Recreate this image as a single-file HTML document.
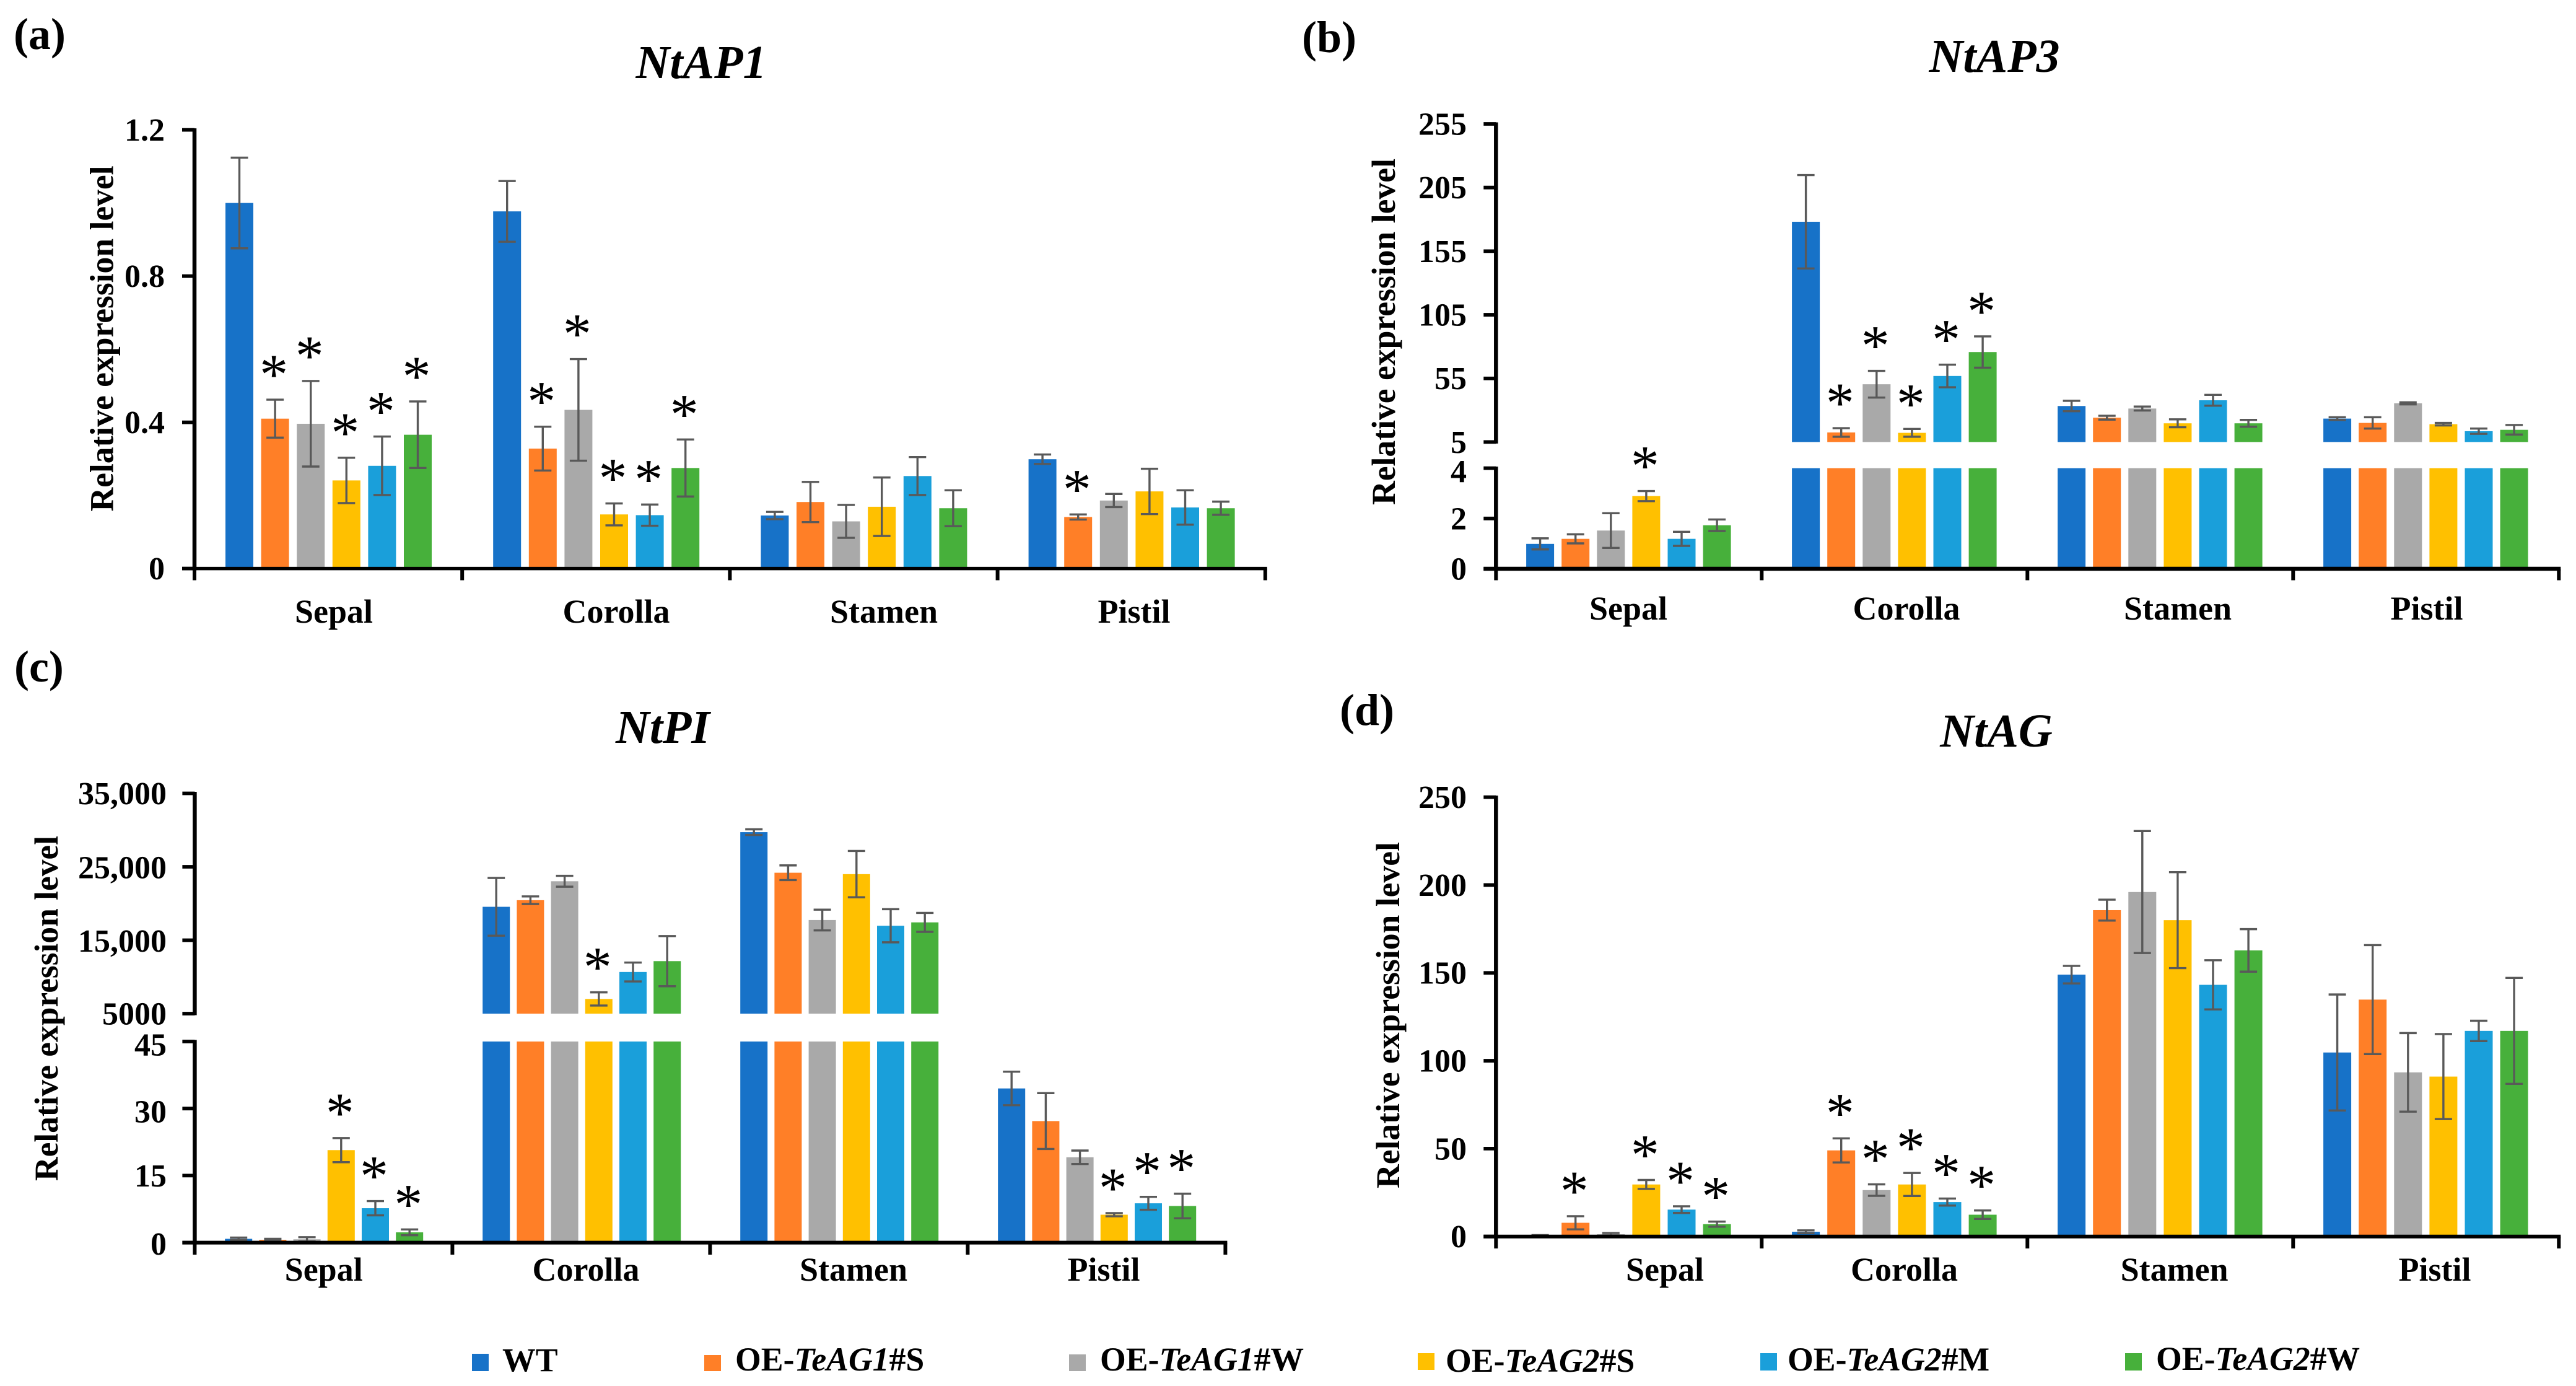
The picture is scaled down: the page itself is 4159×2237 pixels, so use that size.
<!DOCTYPE html>
<html lang="en">
<head>
<meta charset="utf-8">
<title>Relative expression of NtAP1, NtAP3, NtPI and NtAG</title>
<style>
html,body{margin:0;padding:0;background:#fff;}
svg{display:block;}
text{font-family:"Liberation Serif","Times New Roman",serif;font-weight:bold;fill:#000;}
.title{font-size:76px;font-style:italic;text-anchor:middle;}
.panel{font-size:72px;}
.leg{font-size:53.7px;}
.leg tspan.i{font-style:italic;}
</style>
</head>
<body>
<svg id="figure" xmlns="http://www.w3.org/2000/svg" width="4159" height="2237" viewBox="0 0 4159 2237">
  <rect x="0" y="0" width="4159" height="2237" fill="#fff"/>
  <text class="panel" x="22" y="79">(a)</text>
  <text class="panel" x="2102" y="84">(b)</text>
  <text class="panel" x="23" y="1100">(c)</text>
  <text class="panel" x="2163" y="1170">(d)</text>
  <text class="title" x="1132" y="126">NtAP1</text>
  <text class="title" x="3220" y="116">NtAP3</text>
  <text class="title" x="1070" y="1199">NtPI</text>
  <text class="title" x="3223" y="1205">NtAG</text>
  <g id="legend">
    <g>
      <rect x="762" y="2185" width="27" height="28" fill="#1772C8"/>
      <text class="leg" x="811" y="2213">WT</text>
    </g>
    <g>
      <rect x="1137" y="2187" width="27" height="26" fill="#FF7F27"/>
      <text class="leg" x="1187" y="2212">OE-<tspan class="i">TeAG1</tspan>#S</text>
    </g>
    <g>
      <rect x="1726" y="2186" width="27" height="27" fill="#A9A9A9"/>
      <text class="leg" x="1776" y="2212">OE-<tspan class="i">TeAG1</tspan>#W</text>
    </g>
    <g>
      <rect x="2289" y="2184" width="27" height="27" fill="#FFC000"/>
      <text class="leg" x="2334" y="2214">OE-<tspan class="i">TeAG2</tspan>#S</text>
    </g>
    <g>
      <rect x="2842" y="2184" width="27" height="28" fill="#1A9FDA"/>
      <text class="leg" x="2886" y="2212">OE-<tspan class="i">TeAG2</tspan>#M</text>
    </g>
    <g>
      <rect x="3431" y="2184" width="27" height="28" fill="#47B03B"/>
      <text class="leg" x="3481" y="2211">OE-<tspan class="i">TeAG2</tspan>#W</text>
    </g>
  </g>
  <g id="charts"></g>
</svg>
<script>
// ---- shared categories ----
const organs = ['Sepal', 'Corolla', 'Stamen', 'Pistil'];
const lines = ['WT', 'TeAG1-S', 'TeAG1-W', 'TeAG2-S', 'TeAG2-M', 'TeAG2-W'];

// ---- NtAP1 values (rows: organs, columns: lines) ----
const ap1Means = [
  [1.0, 0.41, 0.396, 0.241, 0.281, 0.366],
  [0.977, 0.328, 0.434, 0.148, 0.146, 0.275],
  [0.145, 0.182, 0.129, 0.169, 0.253, 0.165],
  [0.299, 0.141, 0.186, 0.211, 0.167, 0.165]
];
const ap1Errors = [
  [0.124, 0.052, 0.117, 0.062, 0.08, 0.091],
  [0.083, 0.06, 0.139, 0.03, 0.029, 0.078],
  [0.01, 0.055, 0.045, 0.08, 0.052, 0.049],
  [0.013, 0.007, 0.018, 0.062, 0.047, 0.018]
];
const ap1Stars = [
  [0, 1, 1, 1, 1, 1],
  [0, 1, 1, 1, 1, 1],
  [0, 0, 0, 0, 0, 0],
  [0, 1, 0, 0, 0, 0]
];
const ap1Ticks = [0, 0.4, 0.8, 1.2];
const ap1TickLabels = ['0', '0.4', '0.8', '1.2'];

// ---- NtAP3 values ----
const ap3Means = [
  [0.99, 1.19, 1.52, 2.89, 1.19, 1.73],
  [178.1, 12.5, 50.4, 12.2, 56.9, 75.7],
  [33.3, 24.1, 31.3, 19.7, 37.8, 19.7],
  [23.4, 20, 35.4, 19, 13.5, 14.6]
];
const ap3Errors = [
  [0.22, 0.18, 0.69, 0.2, 0.28, 0.23],
  [36.7, 3.4, 10.5, 3.05, 8.9, 12.3],
  [4.1, 1.5, 1.55, 3.1, 4.25, 2.7],
  [1.05, 4.45, 0.8, 1, 2.05, 3.75]
];
const ap3Stars = [
  [0, 0, 0, 1, 0, 0],
  [0, 1, 1, 1, 1, 1],
  [0, 0, 0, 0, 0, 0],
  [0, 0, 0, 0, 0, 0]
];
const ap3LowerTicks = [0, 2, 4];
const ap3LowerLabels = ['0', '2', '4'];
const ap3UpperTicks = [5, 55, 105, 155, 205, 255];
const ap3UpperLabels = ['5', '55', '105', '155', '205', '255'];

// ---- NtPI values ----
const piMeans = [
  [0.85, 0.64, 0.74, 20.7, 7.7, 2.3],
  [19550, 20450, 23030, 7000, 10670, 12150],
  [29720, 24190, 17750, 24000, 16970, 17430],
  [34.5, 27.2, 19.1, 6.25, 8.8, 8.2]
];
const piErrors = [
  [0.28, 0.22, 0.48, 2.7, 1.6, 0.65],
  [3930, 515, 740, 900, 1285, 3415],
  [385, 1000, 1415, 3155, 2255, 1290],
  [3.75, 6.25, 1.5, 0.35, 1.45, 2.75]
];
const piStars = [
  [0, 0, 0, 1, 1, 1],
  [0, 0, 0, 1, 0, 0],
  [0, 0, 0, 0, 0, 0],
  [0, 0, 0, 1, 1, 1]
];
const piLowerTicks = [0, 15, 30, 45];
const piLowerLabels = ['0', '15', '30', '45'];
const piUpperTicks = [5000, 15000, 25000, 35000];
const piUpperLabels = ['5000', '15,000', '25,000', '35,000'];

// ---- NtAG values ----
const agMeans = [
  [0.6, 7.8, 1.3, 29.6, 15.3, 7],
  [2.7, 49, 26.4, 29.6, 19.6, 12.4],
  [149, 185.7, 196, 180, 143.2, 162.8],
  [104.7, 134.8, 93.4, 91, 117, 117]
];
const agErrors = [
  [0.2, 3.75, 0.7, 2.55, 1.9, 1.45],
  [0.8, 6.85, 3.25, 6.55, 2, 2.4],
  [5, 5.95, 34.7, 27.3, 14, 12.1],
  [33, 31, 22.35, 24.2, 5.8, 30.15]
];
const agStars = [
  [0, 1, 0, 1, 1, 1],
  [0, 1, 1, 1, 1, 1],
  [0, 0, 0, 0, 0, 0],
  [0, 0, 0, 0, 0, 0]
];
const agTicks = [0, 50, 100, 150, 200, 250];
const agTickLabels = ['0', '50', '100', '150', '200', '250'];

// ---- layout (pixels, independent of the data) ----
const barColors = ['#1772C8', '#FF7F27', '#A9A9A9', '#FFC000', '#1A9FDA', '#47B03B'];
const NS = 'http://www.w3.org/2000/svg';
const chartRoot = document.getElementById('charts');

const panels = [
  {
    id: 'ntap1', means: ap1Means, errors: ap1Errors, stars: ap1Stars,
    x0: 314, catW: 432.2, offset: 50, pitch: 57.6, barW: 45, axisBottom: 936.5, axisW: 5.5,
    labelRight: 266, labelCenters: [539, 995, 1427, 1831], labelBase: 1005,
    yTitle: { base: 182.5, mid: 546.5, len: 558 },
    segments: [{ domain: [0, 1.2], range: [917.6, 209.6], ticks: ap1Ticks, labels: ap1TickLabels, nudge: [0, 0, 0, 0] }]
  },
  {
    id: 'ntap3', means: ap3Means, errors: ap3Errors, stars: ap3Stars,
    x0: 2415.3, catW: 429, offset: 48.8, pitch: 57.1, barW: 45, axisBottom: 936.5, axisW: 6.5,
    labelRight: 2368, labelCenters: [2629, 3078, 3516, 3918], labelBase: 1000,
    yTitle: { base: 2252, mid: 535.5, len: 559 },
    segments: [
      { domain: [0, 4], range: [918, 755.6], ticks: ap3LowerTicks, labels: ap3LowerLabels, nudge: [0, 0, 5] },
      { domain: [5, 255], range: [713.4, 200], ticks: ap3UpperTicks, labels: ap3UpperLabels, nudge: [0, 0, 0, 0, 0, 0] }
    ]
  },
  {
    id: 'ntpi', means: piMeans, errors: piErrors, stars: piStars,
    x0: 314.4, catW: 416, offset: 48.8, pitch: 55.2, barW: 44, axisBottom: 2025, axisW: 6,
    labelRight: 269, labelCenters: [522.7, 946, 1378, 1782], labelBase: 2067,
    yTitle: { base: 93, mid: 1627.5, len: 557 },
    segments: [
      { domain: [0, 45], range: [2005.6, 1681], ticks: piLowerTicks, labels: piLowerLabels, nudge: [2, 0, 5, 5] },
      { domain: [5000, 35000], range: [1636, 1280.5], ticks: piUpperTicks, labels: piUpperLabels, nudge: [0, 1, 1, 0] }
    ]
  },
  {
    id: 'ntag', means: agMeans, errors: agErrors, stars: agStars,
    x0: 2415.3, catW: 429, offset: 48.8, pitch: 57.1, barW: 45, axisBottom: 2015, axisW: 6,
    labelRight: 2368, labelCenters: [2688, 3074.5, 3510.6, 3931], labelBase: 2067,
    yTitle: { base: 2259, mid: 1638.5, len: 559 },
    segments: [{ domain: [0, 250], range: [1995.7, 1286.6], ticks: agTicks, labels: agTickLabels, nudge: [0, 0, 0, 0, 0, 0] }]
  }
];

function make(tag, attrs, parent) {
  const node = document.createElementNS(NS, tag);
  for (const key in attrs) node.setAttribute(key, attrs[key]);
  parent.appendChild(node);
  return node;
}

// Axis function: maps a value to a pixel through a possibly broken y-axis.
function yScale(segments, value) {
  let seg = segments[0];
  for (const s of segments) if (value >= s.domain[0]) seg = s;
  const t = (value - seg.domain[0]) / (seg.domain[1] - seg.domain[0]);
  return seg.range[0] + t * (seg.range[1] - seg.range[0]);
}

function segScale(seg, value) {
  const t = (value - seg.domain[0]) / (seg.domain[1] - seg.domain[0]);
  return seg.range[0] + t * (seg.range[1] - seg.range[0]);
}

function barX(p, organIndex, lineIndex) {
  return p.x0 + p.catW * organIndex + p.offset + p.pitch * lineIndex;
}

panels.forEach(function (p) {
  const g = make('g', {}, chartRoot);
  
  
  const tickLeft = p.x0 - 20;
  const zero = p.segments[0].range[0];

  // bars
  organs.forEach(function (organ, oi) {
    lines.forEach(function (line, li) {
      const v = p.means[oi][li];
      const x = barX(p, oi, li);
      p.segments.forEach(function (seg, si) {
        if (v <= seg.domain[0]) return;
        const top = segScale(seg, Math.min(v, seg.domain[1]));
        const bar = make('rect', { x: x, y: top, width: p.barW, height: seg.range[0] - top, fill: barColors[li] }, g);
        
        
      });
    });
  });

  // error bars and significance stars
  organs.forEach(function (organ, oi) {
    lines.forEach(function (line, li) {
      const v = p.means[oi][li];
      const e = p.errors[oi][li];
      const cx = barX(p, oi, li) + p.barW / 2;
      const hi = yScale(p.segments, v + e);
      const lo = yScale(p.segments, Math.max(v - e, 0));
      const err = make('path', {
        d: 'M' + (cx - 14) + ' ' + hi + 'H' + (cx + 14) + 'M' + cx + ' ' + hi + 'V' + lo + 'M' + (cx - 14) + ' ' + lo + 'H' + (cx + 14),
        fill: 'none', stroke: '#595959', 'stroke-width': 3.4
      }, g);
      
      
      if (p.stars[oi][li]) {
        const star = make('text', {
          x: cx - 2, y: hi - 10, 'font-size': 92, 'text-anchor': 'middle', style: 'font-weight:normal'
        }, g);
        star.textContent = '*';
        
        
      }
    });
  });

  // y axis (one line per segment), ticks and tick labels
  p.segments.forEach(function (seg, si) {
    const axisLine = make('line', { x1: p.x0, x2: p.x0, y1: seg.range[0] + (si ? 2.5 : 3), y2: seg.range[1] - 2.5, stroke: '#000', 'stroke-width': 6.5 }, g);
    
    
    seg.ticks.forEach(function (tv, ti) {
      const ty = segScale(seg, tv);
      const tick = make('line', { x1: tickLeft, x2: p.x0, y1: ty, y2: ty, stroke: '#000', 'stroke-width': 5.8 }, g);
      
      
      const lab = make('text', { x: p.labelRight, y: ty + 17.5 + seg.nudge[ti], 'font-size': 52, 'text-anchor': 'end' }, g);
      lab.textContent = seg.labels[ti];
      
      
    });
  });

  // x axis
  const xAxis = make('line', { x1: tickLeft, x2: p.x0 + p.catW * organs.length + 3, y1: zero, y2: zero, stroke: '#000', 'stroke-width': p.axisW }, g);
  
  
  for (let i = 0; i <= organs.length; i++) {
    const tx = p.x0 + p.catW * i;
    const xTick = make('line', { x1: tx, x2: tx, y1: zero, y2: p.axisBottom, stroke: '#000', 'stroke-width': 6 }, g);
    
    
  }
  organs.forEach(function (organ, oi) {
    const lab = make('text', { x: p.labelCenters[oi], y: p.labelBase, 'font-size': 54, 'text-anchor': 'middle' }, g);
    lab.textContent = organ;
    
    
  });

  // y axis title
  const yt = make('text', {
    transform: 'translate(' + p.yTitle.base + ' ' + p.yTitle.mid + ') rotate(-90)',
    'font-size': 53.5, 'text-anchor': 'middle', textLength: p.yTitle.len, lengthAdjust: 'spacingAndGlyphs'
  }, g);
  yt.textContent = 'Relative expression level';
  
  
});
</script>
</body>
</html>
